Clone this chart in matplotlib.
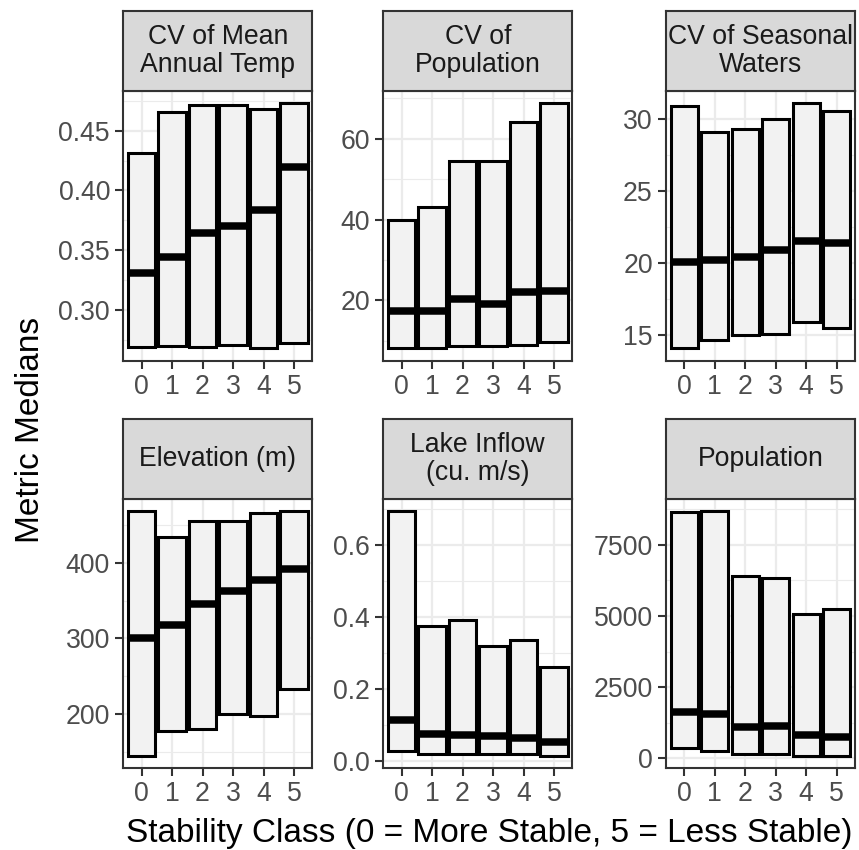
import matplotlib
matplotlib.use('Agg')
import matplotlib.pyplot as plt
from matplotlib.ticker import AutoMinorLocator

plt.rcParams['font.family'] = ['Liberation Sans', 'DejaVu Sans']

# ---------------- data ----------------
classes = [0, 1, 2, 3, 4, 5]
class_labels = ["0", "1", "2", "3", "4", "5"]

titles = ["CV of Mean\nAnnual Temp", "CV of\nPopulation", "CV of Seasonal\nWaters",
          "Elevation (m)", "Lake Inflow\n(cu. m/s)", "Population"]

temp_lower = [0.2687, 0.2695, 0.2690, 0.2706, 0.2678, 0.2723]
temp_median = [0.3307, 0.3440, 0.3648, 0.3699, 0.3838, 0.4200]
temp_upper = [0.4310, 0.4660, 0.4715, 0.4715, 0.4680, 0.4730]

cvpop_lower = [8.26, 8.1, 8.6, 8.7, 9.0, 9.6]
cvpop_median = [17.36, 17.36, 20.25, 19.2, 22.0, 22.2]
cvpop_upper = [40.0, 43.06, 54.6, 54.6, 64.2, 68.8]

water_lower = [14.07, 14.63, 14.98, 15.05, 15.88, 15.51]
water_median = [20.07, 20.23, 20.42, 20.93, 21.53, 21.39]
water_upper = [30.9, 29.1, 29.28, 29.98, 31.09, 30.56]

elev_lower = [144.4, 176.6, 180.1, 199.6, 196.5, 232.7]
elev_median = [300.9, 318.3, 345.0, 363.0, 377.0, 392.5]
elev_upper = [468.4, 434.4, 456.1, 456.1, 465.8, 468.4]

inflow_lower = [0.0268, 0.0185, 0.0210, 0.0185, 0.0185, 0.0148]
inflow_median = [0.115, 0.075, 0.0724, 0.071, 0.0647, 0.0527]
inflow_upper = [0.693, 0.376, 0.390, 0.318, 0.3357, 0.261]

pop_lower = [350, 245, 152, 140, 93, 93]
pop_median = [1647, 1554, 1110, 1121, 818, 759]
pop_upper = [8645, 8680, 6402, 6320, 5058, 5234]

temp_ticks = [0.30, 0.35, 0.40, 0.45]
temp_tick_labels = ["0.30", "0.35", "0.40", "0.45"]
cvpop_ticks = [20, 40, 60]
cvpop_tick_labels = ["20", "40", "60"]
water_ticks = [15, 20, 25, 30]
water_tick_labels = ["15", "20", "25", "30"]
elev_ticks = [200, 300, 400]
elev_tick_labels = ["200", "300", "400"]
inflow_ticks = [0.0, 0.2, 0.4, 0.6]
inflow_tick_labels = ["0.0", "0.2", "0.4", "0.6"]
pop_ticks = [0, 2500, 5000, 7500]
pop_tick_labels = ["0", "2500", "5000", "7500"]

lowers = [temp_lower, cvpop_lower, water_lower, elev_lower, inflow_lower, pop_lower]
medians = [temp_median, cvpop_median, water_median, elev_median, inflow_median, pop_median]
uppers = [temp_upper, cvpop_upper, water_upper, elev_upper, inflow_upper, pop_upper]
yticks = [temp_ticks, cvpop_ticks, water_ticks, elev_ticks, inflow_ticks, pop_ticks]
ytick_labels = [temp_tick_labels, cvpop_tick_labels, water_tick_labels,
                elev_tick_labels, inflow_tick_labels, pop_tick_labels]

# ---------------- layout ----------------
W, H = 859, 850
fig = plt.figure(figsize=(W / 100, H / 100), dpi=100)

lefts_px = [123.3, 383.3, 666.0]
panel_w_px = 189.0
rows_px = [(91.0, 360.7, 11.0), (499.0, 768.0, 419.0)]  # (panel top, panel bottom, strip top)

border_col = '#333333'
tick_lab_col = '#4D4D4D'
grid_col = '#EBEBEB'
box_fill = '#F2F2F2'
strip_fill = '#D9D9D9'
tick_fs = 19.2
title_fs = 24

for i in range(6):
    r, c = divmod(i, 3)
    ptop, pbot, stop = rows_px[r]
    left = lefts_px[c] / W
    width = panel_w_px / W
    bottom = 1 - pbot / H
    height = (pbot - ptop) / H
    ax = fig.add_axes([left, bottom, width, height])
    ax.set_facecolor('white')
    ax.use_sticky_edges = False

    lo = lowers[i]
    md = medians[i]
    up = uppers[i]
    heights = [u - l for u, l in zip(up, lo)]
    ax.bar(classes, heights, bottom=lo, width=0.9, color=box_fill,
           edgecolor='black', linewidth=2.2, zorder=3)
    ax.hlines(md, [x - 0.45 for x in classes], [x + 0.45 for x in classes],
              colors='black', linewidth=5.4, zorder=4)

    ax.set_xlim(-0.6, 5.6)
    ax.margins(y=0.05)
    ax.autoscale_view()
    ax.set_xticks(classes, class_labels)
    ax.set_yticks(yticks[i], ytick_labels[i])
    ax.yaxis.set_minor_locator(AutoMinorLocator(2))
    ax.set_axisbelow(True)
    ax.grid(which='major', color=grid_col, linewidth=1.6, zorder=0)
    ax.grid(which='minor', axis='y', color=grid_col, linewidth=0.8, zorder=0)
    ax.tick_params(which='major', length=6, width=1.5, color=border_col,
                   labelsize=tick_fs, labelcolor=tick_lab_col, pad=3.5)
    ax.tick_params(which='minor', length=0)
    for sp in ax.spines.values():
        sp.set_color(border_col)
        sp.set_linewidth(1.5)
        sp.set_zorder(5)

    # strip
    sax = fig.add_axes([left, 1 - ptop / H, width, (ptop - stop) / H])
    sax.set_facecolor(strip_fill)
    sax.set_xticks([])
    sax.set_yticks([])
    for sp in sax.spines.values():
        sp.set_color(border_col)
        sp.set_linewidth(1.5)
    sax.text(0.5, 0.5, titles[i], ha='center', va='center', fontsize=tick_fs,
             color='#1A1A1A', transform=sax.transAxes, linespacing=1.1)

fig.text(489 / W, 1 - 842 / H, "Stability Class (0 = More Stable, 5 = Less Stable)",
         ha='center', va='baseline', fontsize=title_fs, color='black')
fig.text(30.2 / W, 1 - 429.5 / H, "Metric Medians", rotation=90,
         ha='center', va='center', fontsize=title_fs, color='black')

fig.savefig('out.png', dpi=100)
